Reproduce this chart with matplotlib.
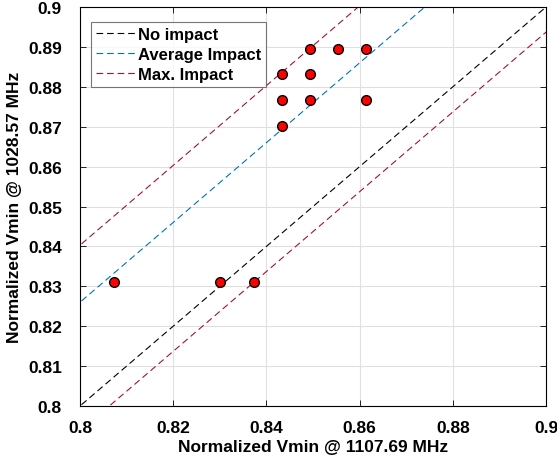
import numpy as np
from matplotlib import pyplot as plt

plt.rcParams['font.family'] = ['Liberation Sans', 'DejaVu Sans']
plt.rcParams['font.weight'] = 'bold'

# measured points (normalized Vmin)
vmin_high = [0.8434, 0.8494, 0.8554, 0.8614, 0.8494, 0.8434, 0.8494, 0.8614,
             0.8434, 0.8072, 0.8301, 0.8373]
vmin_low = [0.8831, 0.8896, 0.8896, 0.8896, 0.8831, 0.8766, 0.8766, 0.8766,
            0.8701, 0.8312, 0.8312, 0.8312]

# reference line offsets
avg_offset = 0.026
max_offset_up = 0.0403
max_offset_down = -0.0063

line_labels = ['No impact', 'Average Impact', 'Max. Impact']
x_ticks = [0.8, 0.82, 0.84, 0.86, 0.88, 0.9]
y_ticks = [0.8, 0.81, 0.82, 0.83, 0.84, 0.85, 0.86, 0.87, 0.88, 0.89, 0.9]

blue = (0.0, 0.447, 0.741)
red = (0.635, 0.078, 0.184)

fig = plt.figure(figsize=(5.57, 4.6), dpi=100)
ax = fig.add_axes([0.1436, 0.1152, 0.8367, 0.8674])

xx = np.array([0.79, 0.91])
dash = (0, (6, 3.5))
ax.plot(xx, xx, color='k', linestyle=dash, linewidth=0.8, label=line_labels[0])
ax.plot(xx, xx + avg_offset, color=blue, linestyle=dash, linewidth=0.8, label=line_labels[1])
ax.plot(xx, xx + max_offset_up, color=red, linestyle=dash, linewidth=0.8, label=line_labels[2])
ax.plot(xx, xx + max_offset_down, color=red, linestyle=dash, linewidth=0.8)

ax.plot(vmin_high, vmin_low, linestyle='', marker='o', markersize=7,
        markerfacecolor='red', markeredgecolor='k', markeredgewidth=1.0)

ax.set_xlim(0.8, 0.9)
ax.set_ylim(0.8, 0.9)
ax.set_xticks(x_ticks)
ax.set_yticks(y_ticks)
ax.set_xticklabels([('%.2f' % t).rstrip('0') for t in x_ticks])
ax.set_yticklabels([('%.2f' % t).rstrip('0') for t in y_ticks])
ax.tick_params(direction='in', top=True, right=True, labelsize=12.5, length=4, width=0.6)
ax.tick_params(axis='x', pad=10)
ax.tick_params(axis='y', pad=13)
ax.grid(True, color='#e0e0e0', linewidth=0.8)
ax.set_axisbelow(True)
for s in ax.spines.values():
    s.set_linewidth(0.8)

ax.set_xlabel('Normalized Vmin @ 1107.69 MHz', fontsize=12.5, fontweight='bold', labelpad=3)
ax.set_ylabel('Normalized Vmin @ 1028.57 MHz', fontsize=12.5, fontweight='bold', labelpad=4)

leg = ax.legend(loc='upper left', bbox_to_anchor=(0.024, 0.962), fontsize=12,
                frameon=True, fancybox=False, edgecolor='#555555', handlelength=2.4,
                handletextpad=0.1, borderpad=0.3, labelspacing=0.3, borderaxespad=0)
leg.get_frame().set_linewidth(0.8)

plt.savefig('out.png', dpi=100)
